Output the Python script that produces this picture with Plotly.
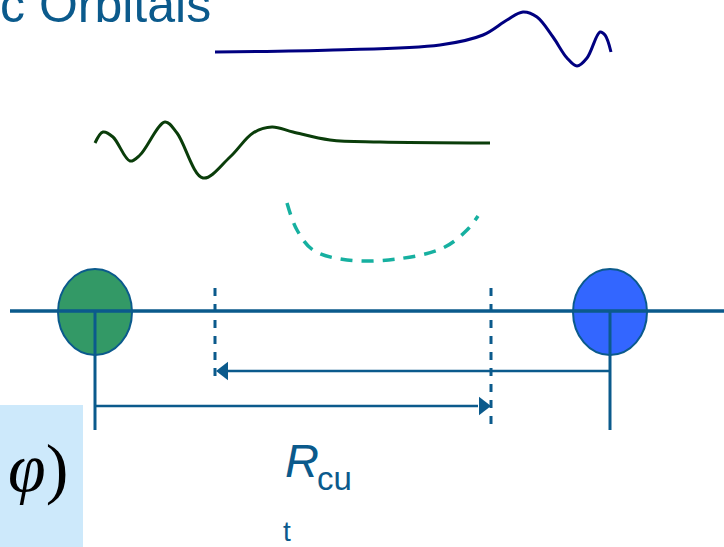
import plotly.graph_objects as go

W, H = 724, 547

# Diagram geometry (pixel coordinates)
blue_wave_x = [215, 333, 440, 483, 507, 523, 537, 553, 567, 577, 587, 600, 605, 611]
blue_wave_y = [52, 50, 45, 35, 20, 12, 17, 37, 58, 66, 58, 32, 35, 52]

green_wave_x = [95, 103, 113, 130, 140, 165, 177, 203, 230, 253, 272, 293, 330, 380, 490]
green_wave_y = [143, 132, 137, 161, 155, 122, 133, 178, 157, 133, 127, 132, 140, 142, 143]

dash_x = [287, 297, 313, 347, 397, 443, 467, 478]
dash_y = [203, 230, 250, 260, 259, 248, 230, 216]

axis_line_x = [10, 724]
axis_line_y = [311, 311]

atom_x = [95, 610]
atom_y = [312, 312]
atom_rx = [37, 37]
atom_ry = [43, 43]
atom_colors = ["#339966", "#3366ff"]

LINE = "#0b5a8c"

fig = go.Figure()

# title
fig.add_annotation(x=213, y=35, text="c Orbitals", xanchor="right", yanchor="bottom",
                   showarrow=False, font=dict(family="Liberation Sans", size=50, color=LINE))

# light blue box
fig.add_shape(type="rect", x0=-10, x1=83, y0=405, y1=560, fillcolor="#cde9fb", line_width=0, layer="below")
fig.add_annotation(x=38, y=468, text="<i>φ</i>)", showarrow=False, xanchor="center", yanchor="middle",
                   font=dict(family="Liberation Serif", size=68, color="black"))

# horizontal axis
fig.add_trace(go.Scatter(x=axis_line_x, y=axis_line_y, mode="lines", line=dict(color=LINE, width=3)))

# atoms
for cx, cy, rx, ry, c in zip(atom_x, atom_y, atom_rx, atom_ry, atom_colors):
    fig.add_shape(type="circle", x0=cx - rx, x1=cx + rx, y0=cy - ry, y1=cy + ry,
                  fillcolor=c, line=dict(color=LINE, width=2), layer="below")

# redraw axis over atoms
fig.add_shape(type="line", x0=10, x1=740, y0=311, y1=311, line=dict(color=LINE, width=3))

# vertical lines from nuclei
fig.add_shape(type="line", x0=95, x1=95, y0=311, y1=430, line=dict(color=LINE, width=3))
fig.add_shape(type="line", x0=610, x1=610, y0=311, y1=430, line=dict(color=LINE, width=3))

# dashed verticals
fig.add_shape(type="line", x0=215, x1=215, y0=288, y1=382, line=dict(color=LINE, width=3, dash="8px,8px"))
fig.add_shape(type="line", x0=491, x1=491, y0=288, y1=430, line=dict(color=LINE, width=3, dash="8px,8px"))

# arrows
fig.add_trace(go.Scatter(x=[610, 228], y=[371, 371], mode="lines", line=dict(color=LINE, width=2.5)))
fig.add_trace(go.Scatter(x=[224], y=[371], mode="markers",
                         marker=dict(symbol="triangle-left", size=16, color=LINE)))
fig.add_trace(go.Scatter(x=[95, 478], y=[406, 406], mode="lines", line=dict(color=LINE, width=2.5)))
fig.add_trace(go.Scatter(x=[483], y=[406], mode="markers",
                         marker=dict(symbol="triangle-right", size=16, color=LINE)))

# waves
fig.add_trace(go.Scatter(x=blue_wave_x, y=blue_wave_y, mode="lines",
                         line=dict(color="#000080", width=3, shape="spline", smoothing=1.0)))
fig.add_trace(go.Scatter(x=green_wave_x, y=green_wave_y, mode="lines",
                         line=dict(color="#0a3d0a", width=3, shape="spline", smoothing=1.0)))
fig.add_trace(go.Scatter(x=dash_x, y=dash_y, mode="lines",
                         line=dict(color="#16b0a0", width=3.5, dash="12px,9px", shape="spline", smoothing=1.0)))

# labels
fig.add_annotation(x=283, y=460, text="<i>R</i>", showarrow=False, xanchor="left", yanchor="middle",
                   font=dict(family="Liberation Sans", size=47, color=LINE))
fig.add_annotation(x=315, y=478, text="cu", showarrow=False, xanchor="left", yanchor="middle",
                   font=dict(family="Liberation Sans", size=33, color=LINE))
fig.add_annotation(x=287, y=531, text="t", showarrow=False, xanchor="center", yanchor="middle",
                   font=dict(family="Liberation Sans", size=28, color=LINE))

fig.update_layout(width=W, height=H, margin=dict(l=0, r=0, t=0, b=0),
                  paper_bgcolor="white", plot_bgcolor="white", showlegend=False, hovermode=False,
                  xaxis=dict(range=[0, W], visible=False, fixedrange=True),
                  yaxis=dict(range=[H, 0], visible=False, fixedrange=True))

fig.write_html("out.html", config={"displayModeBar": False, "staticPlot": True},
               post_script="document.body.style.margin='0px';")
